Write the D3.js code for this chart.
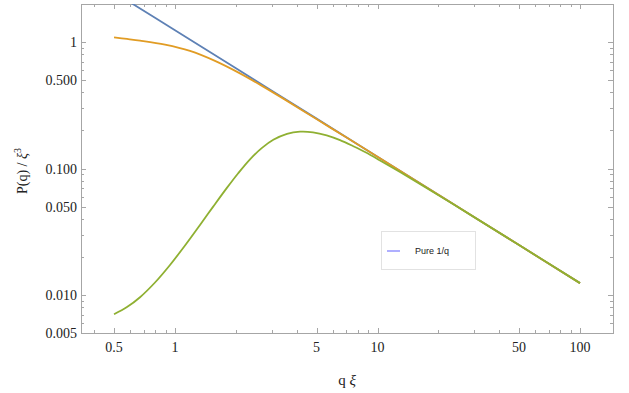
<!DOCTYPE html>
<meta charset="utf-8">
<script src="https://d3js.org/d3.v7.min.js"></script>
<style>
  body { margin: 0; background: #fff; }
  svg { display: block; }
</style>
<div id="chart"></div>
<script>
// values
var qBlue = [0.55, 1, 2, 5, 10, 20, 50, 100];
var pBlue = [2.25, 1.24, 0.62, 0.248, 0.124, 0.062, 0.0248, 0.0124];

var qOrange = [0.5, 0.5794, 0.6719, 0.8925, 1.1857, 1.5755, 2.0932, 2.6888, 3.4928, 4.973, 7, 10, 20, 50, 100];
var pOrange = [1.0893, 1.0588, 1.0267, 0.9546, 0.8519, 0.7103, 0.5658, 0.4505, 0.3505, 0.2471, 0.1765, 0.1237, 0.062, 0.0248, 0.0124];

var qGreen = [0.5, 0.5793, 0.6718, 0.7966, 0.9447, 1.1205, 1.3287, 1.5404, 1.8001, 2.047, 2.3462,
              2.6892, 3.058, 3.573, 4.1428, 4.8032, 5.6124, 6.5298, 7.5951, 8.7724, 10.288, 12.915,
              20, 30, 50, 100];
var pGreen = [0.007038, 0.008014, 0.009596, 0.012543, 0.017258, 0.024612, 0.035776, 0.049714, 0.069949, 0.091395, 0.11827,
              0.14548, 0.16861, 0.18806, 0.19574, 0.19344, 0.18302, 0.16769, 0.15003, 0.13378, 0.11587, 0.093821,
              0.06155, 0.04125, 0.0248, 0.0124];

var xMajor = [0.5, 1, 5, 10, 50, 100];
var xMinor = [0.4, 0.6, 0.7, 0.8, 0.9, 2, 3, 4, 6, 7, 8, 9, 20, 30, 40, 60, 70, 80, 90];
var yMajor = [0.005, 0.01, 0.05, 0.1, 0.5, 1];
var yLabels = ["0.005", "0.010", "0.050", "0.100", "0.500", "1"];
var yMinor = [0.006, 0.007, 0.008, 0.009, 0.02, 0.03, 0.04, 0.06, 0.07, 0.08, 0.09,
              0.2, 0.3, 0.4, 0.6, 0.7, 0.8, 0.9];

var W = 629, H = 393;
var fLeft = 81, fRight = 613, fTop = 4, fBottom = 333;

var x = d3.scaleLog().domain([0.3434, 145.5]).range([fLeft, fRight]);
var y = d3.scaleLog().domain([0.005, 2]).range([fBottom, fTop]);

var svg = d3.select("#chart").append("svg")
  .attr("width", W).attr("height", H);

svg.append("clipPath").attr("id", "clip")
  .append("rect")
  .attr("x", fLeft).attr("y", fTop)
  .attr("width", fRight - fLeft).attr("height", fBottom - fTop);

// frame
var frameColor = "#a6a6a6";
svg.append("rect")
  .attr("x", fLeft + 0.5).attr("y", fTop + 0.5)
  .attr("width", fRight - fLeft).attr("height", fBottom - fTop)
  .attr("fill", "none").attr("stroke", frameColor).attr("stroke-width", 1);

// ticks on all four sides, pointing inward
var ticks = svg.append("g").attr("stroke", frameColor).attr("stroke-width", 1);
function xTick(v, len) {
  var px = Math.round(x(v)) + 0.5;
  ticks.append("line").attr("x1", px).attr("x2", px).attr("y1", fBottom).attr("y2", fBottom - len);
  ticks.append("line").attr("x1", px).attr("x2", px).attr("y1", fTop).attr("y2", fTop + len);
}
function yTick(v, len) {
  var py = Math.round(y(v)) + 0.5;
  ticks.append("line").attr("y1", py).attr("y2", py).attr("x1", fLeft).attr("x2", fLeft + len);
  ticks.append("line").attr("y1", py).attr("y2", py).attr("x1", fRight).attr("x2", fRight - len);
}
xMajor.forEach(function(v) { xTick(v, 5); });
xMinor.forEach(function(v) { xTick(v, 3); });
yMajor.forEach(function(v) { yTick(v, 5); });
yMinor.forEach(function(v) { yTick(v, 3); });

// tick labels
var labFont = "'Liberation Serif', 'Times New Roman', serif";
svg.append("g").selectAll("text")
  .data(xMajor).enter().append("text")
  .attr("x", function(d) { return x(d); })
  .attr("y", 352)
  .attr("text-anchor", "middle")
  .style("font-family", labFont).style("font-size", "14px").attr("fill", "#222")
  .text(function(d) { return d; });

svg.append("g").selectAll("text")
  .data(yMajor).enter().append("text")
  .attr("x", fLeft - 4)
  .attr("y", function(d) { return y(d) + 5; })
  .attr("text-anchor", "end")
  .style("font-family", labFont).style("font-size", "14px").attr("fill", "#222")
  .text(function(d, i) { return yLabels[i]; });

// axis titles
var xt = svg.append("text")
  .attr("x", (fLeft + fRight) / 2).attr("y", 385)
  .attr("text-anchor", "middle")
  .style("font-family", labFont).style("font-size", "15px").attr("fill", "#222");
xt.append("tspan").text("q ");
xt.append("tspan").style("font-style", "italic").text("ξ");

var yt = svg.append("text")
  .attr("transform", "translate(27,171) rotate(-90)")
  .attr("text-anchor", "middle")
  .style("font-family", labFont).style("font-size", "14px").attr("fill", "#222");
yt.append("tspan").text("P(q) / ");
yt.append("tspan").style("font-style", "italic").text("ξ");
yt.append("tspan").attr("dy", -6).style("font-size", "10px").text("3");

// curves
var line = d3.line()
  .x(function(d) { return x(d[0]); })
  .y(function(d) { return y(d[1]); })
  .curve(d3.curveCatmullRom);

var plot = svg.append("g").attr("clip-path", "url(#clip)");
var series = [
  {q: qBlue, p: pBlue, color: "#5e81b5"},
  {q: qOrange, p: pOrange, color: "#e19c24"},
  {q: qGreen, p: pGreen, color: "#8fb032"}
];
series.forEach(function(s) {
  plot.append("path")
    .datum(d3.zip(s.q, s.p))
    .attr("d", line)
    .attr("fill", "none")
    .attr("stroke", s.color)
    .attr("stroke-width", 1.8);
});

// legend
var lg = svg.append("g");
lg.append("rect")
  .attr("x", 381.5).attr("y", 231.5).attr("width", 94).attr("height", 38)
  .attr("fill", "#fff").attr("stroke", "#e2e2e2");
lg.append("line")
  .attr("x1", 387).attr("x2", 400).attr("y1", 251).attr("y2", 251)
  .attr("stroke", "#9b9bff").attr("stroke-width", 1.6);
lg.append("text")
  .attr("x", 415).attr("y", 254)
  .style("font-family", "'Liberation Sans', Arial, sans-serif").style("font-size", "9px")
  .attr("fill", "#222")
  .text("Pure 1/q");
</script>
